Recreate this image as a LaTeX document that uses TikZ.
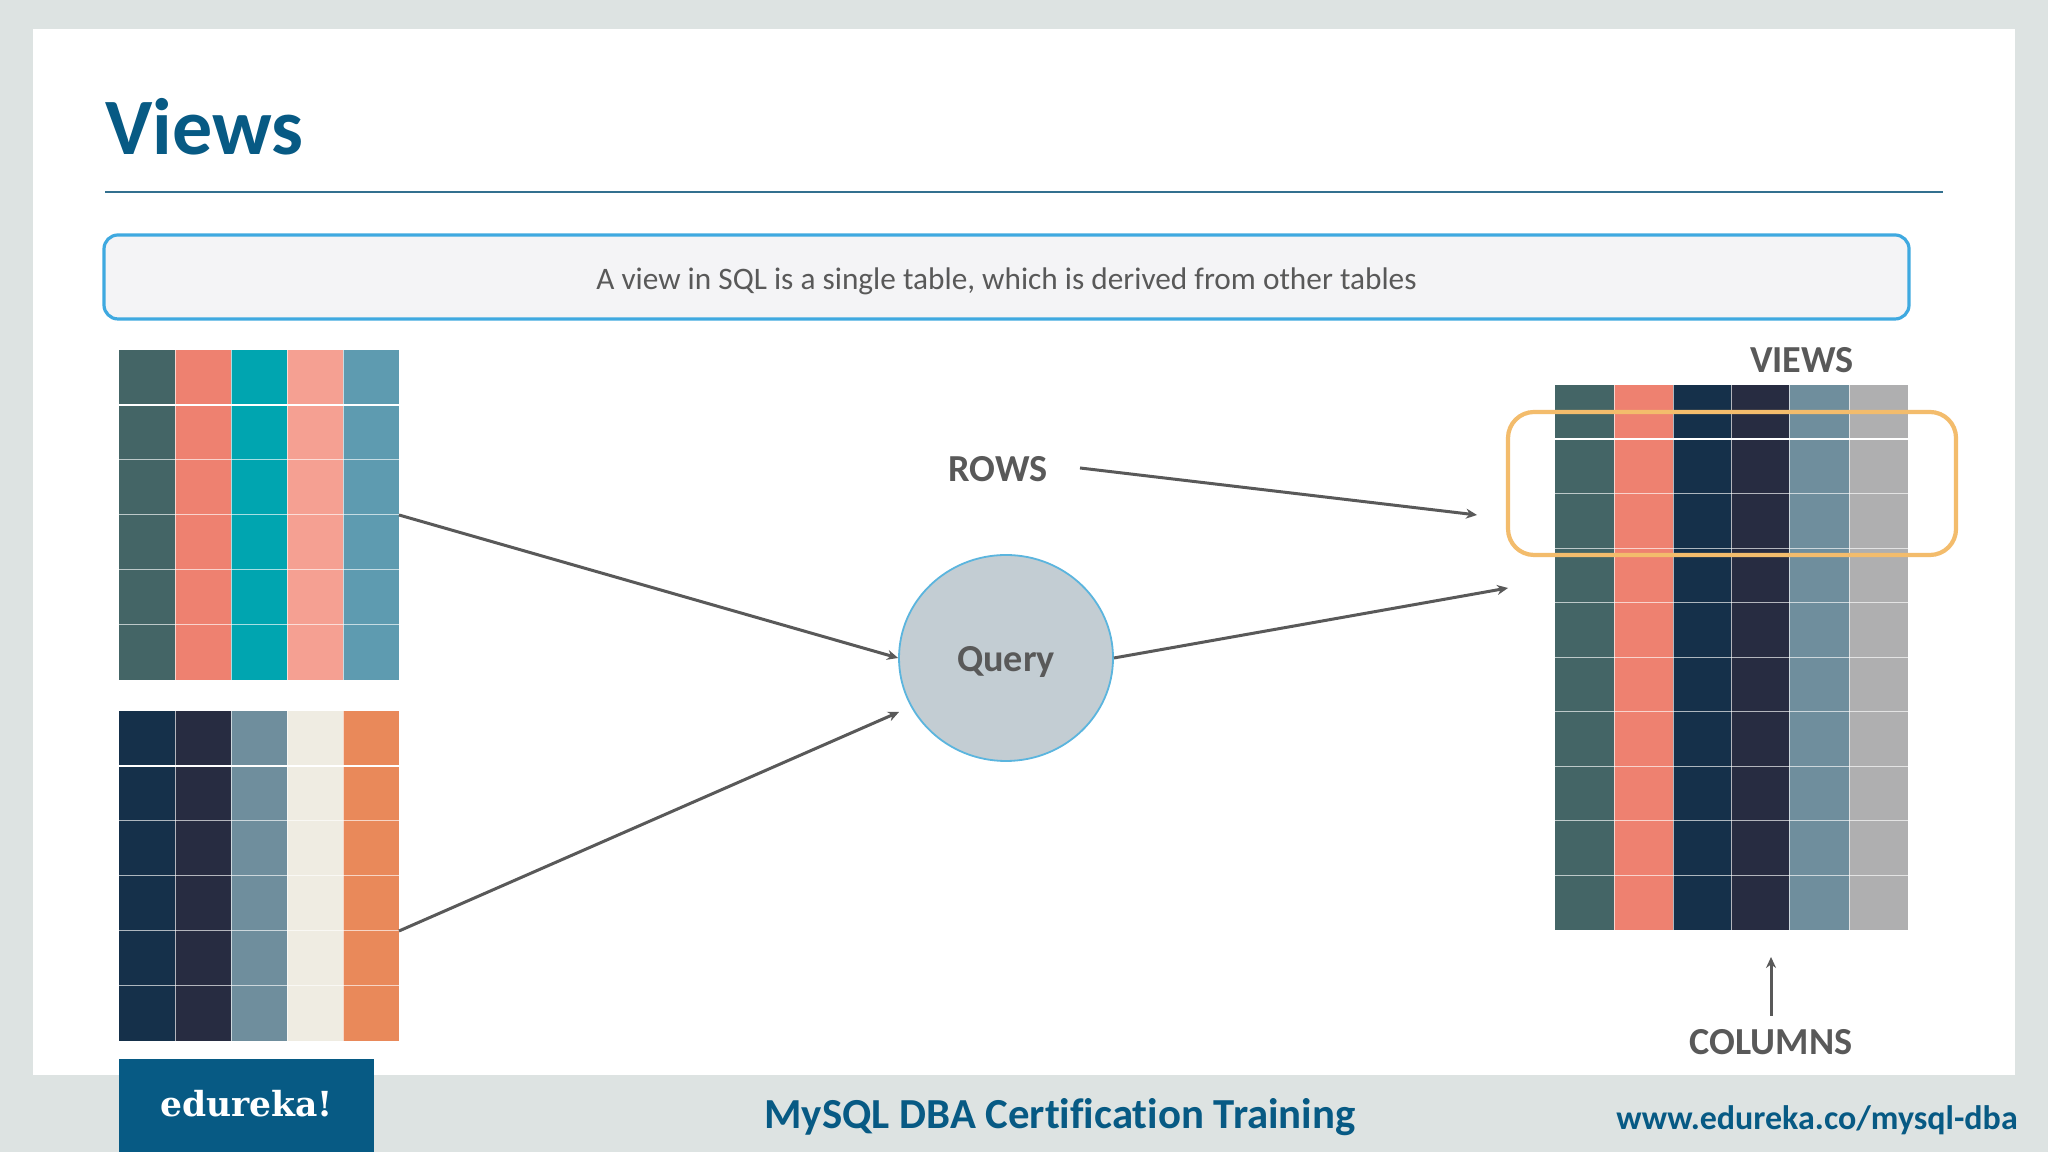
\documentclass[tikz,border=0pt]{standalone}
\usepackage{fontspec}
\setmainfont{Carlito}[Ligatures=CommonOff]
\newfontfamily\logofont{DejaVu Serif}
\usetikzlibrary{arrows.meta,shapes.geometric}
\definecolor{pagecol}{HTML}{DDE3E2}
\definecolor{bluecol}{HTML}{075A84}
\definecolor{greycol}{HTML}{595959}
\definecolor{rulecol}{HTML}{33708F}
\definecolor{framecol}{HTML}{3FA9E0}
\definecolor{panelcol}{HTML}{F4F4F6}
\definecolor{ringcol}{HTML}{F3BC6C}
\definecolor{querycol}{HTML}{C3CDD3}
\definecolor{queryline}{HTML}{5BB5DE}
\definecolor{ca}{HTML}{446566}
\definecolor{cb}{HTML}{EE8170}
\definecolor{cc}{HTML}{00A5B0}
\definecolor{cd}{HTML}{F5A092}
\definecolor{ce}{HTML}{5E9BB0}
\definecolor{da}{HTML}{15304A}
\definecolor{db}{HTML}{272C41}
\definecolor{dc}{HTML}{6F8E9D}
\definecolor{dd}{HTML}{EFECE2}
\definecolor{de}{HTML}{E9895A}
\definecolor{vf}{HTML}{AFAFB0}
\tikzset{
  tablebox/.style={inner sep=0pt,outer sep=0pt,anchor=north west},
  arrowline/.style={draw=greycol,line width=3bp,-{Stealth[length=11bp,width=10bp]}},
  heading/.style={text=greycol,font=\fontsize{38.2bp}{40bp}\selectfont\bfseries,inner sep=0pt},
  gridline/.style={white,line width=1bp,opacity=.65}
}
\begin{document}
\begin{tikzpicture}[x=1bp,y=1bp]
  \useasboundingbox (0,0) rectangle (2048,1152);
  \fill [pagecol] (0,0) rectangle (2048,1152);
  \fill [white] (33,77) rectangle (2015,1123);
  \node (Title) at (105bp,997.5bp) [anchor=base west,inner sep=0pt,text=bluecol,font=\fontsize{80bp}{84bp}\selectfont\bfseries] {Views};
  \coordinate (RuleL) at (105bp,960bp);
  \coordinate (RuleR) at (1943bp,960bp);
  \draw [draw=rulecol,line width=2bp] (RuleL) -- (RuleR);
  \node (Panel) at (1006.5bp,875bp) [draw=framecol,fill=panelcol,line width=3.2bp,rounded corners=14bp,minimum width=1805bp,minimum height=84bp,inner sep=0pt] {};
  \node (PanelText) at (1006.5bp,871bp) [inner sep=0pt,text=greycol,font=\fontsize{31.3bp}{34bp}\selectfont] {A view in SQL is a single table, which is derived from other tables};
  % left top table
  \node (TableA) at (119bp,802bp) [tablebox,minimum width=280bp,minimum height=330bp] {};
  \foreach \c/\col in {0/ca,1/cb,2/cc,3/cd,4/ce}
    \fill [\col] (119+56*\c,472) rectangle (175+56*\c,802);
  \foreach \c in {1,...,4}
    \draw [gridline] (119+56*\c,472) -- (119+56*\c,802);
  \foreach \r in {1,...,5}
    \draw [gridline] (119,802-55*\r) -- (399,802-55*\r);
  \draw [white,line width=2bp] (119,747) -- (399,747);
  % left bottom table
  \node (TableB) at (119bp,441bp) [tablebox,minimum width=280bp,minimum height=330bp] {};
  \foreach \c/\col in {0/da,1/db,2/dc,3/dd,4/de}
    \fill [\col] (119+56*\c,111) rectangle (175+56*\c,441);
  \foreach \c in {1,...,4}
    \draw [gridline] (119+56*\c,111) -- (119+56*\c,441);
  \foreach \r in {1,...,5}
    \draw [gridline] (119,441-55*\r) -- (399,441-55*\r);
  \draw [white,line width=2bp] (119,386) -- (399,386);
  % view table
  \node (TableV) at (1555bp,767bp) [tablebox,minimum width=353bp,minimum height=545bp] {};
  \foreach \xa/\xb/\col in {1555/1614/ca,1614/1673/cb,1673/1731/da,1731/1789/db,1789/1849/dc,1849/1908/vf}
    \fill [\col] (\xa,222) rectangle (\xb,767);
  \foreach \xa in {1614,1673,1731,1789,1849}
    \draw [gridline] (\xa,222) -- (\xa,767);
  \foreach \r in {1,...,9}
    \draw [gridline] (1555,767-54.5*\r) -- (1908,767-54.5*\r);
  \draw [white,line width=2bp] (1555,713) -- (1908,713);
  \node (Ring) at (1732bp,668.5bp) [draw=ringcol,line width=4.2bp,rounded corners=26bp,minimum width=448bp,minimum height=143bp,inner sep=0pt] {};
  \node (Query) at (1006bp,494bp) [ellipse,draw=queryline,fill=querycol,line width=1.8bp,minimum width=214bp,minimum height=206bp,inner sep=0pt] {};
  \node (QueryText) at (1006bp,490bp) [heading] {Query};
  \node (Rows) at (998bp,683bp) [heading] {ROWS};
  \node (Views) at (1802bp,792bp) [heading] {VIEWS};
  \node (Columns) at (1771bp,110bp) [heading] {COLUMNS};
  \coordinate (RowsOut) at (1080bp,684bp);
  \coordinate (RowsIn) at (1477bp,637bp);
  \coordinate (ViewIn) at (1508bp,564bp);
  \coordinate (TableBOut) at (399bp,221bp);
  \coordinate (QueryIn) at (899bp,440bp);
  \coordinate (ColumnsOut) at (1771bp,136bp);
  \coordinate (ColumnsUp) at (1771bp,195bp);
  \draw [arrowline] (TableA.east) -- (Query.west);
  \draw [arrowline] (TableBOut) -- (QueryIn);
  \draw [arrowline] (Query.east) -- (ViewIn);
  \draw [arrowline] (RowsOut) -- (RowsIn);
  \draw [arrowline] (ColumnsOut) -- (ColumnsUp);
  \node (Logo) at (246.5bp,46.5bp) [fill=bluecol,minimum width=255bp,minimum height=93bp,inner sep=0pt] {};
  \node (LogoText) at (246.5bp,48bp) [inner sep=0pt,text=white,font=\logofont\fontsize{34.5bp}{38bp}\selectfont\bfseries] {edureka!};
  \node (Course) at (1060bp,35bp) [inner sep=0pt,text=bluecol,font=\fontsize{42.8bp}{46bp}\selectfont\bfseries] {MySQL DBA Certification Training};
  \node (Site) at (1817bp,32bp) [inner sep=0pt,text=bluecol,font=\fontsize{34bp}{36bp}\selectfont\bfseries] {www.edureka.co/mysql-dba};
\end{tikzpicture}
\end{document}
